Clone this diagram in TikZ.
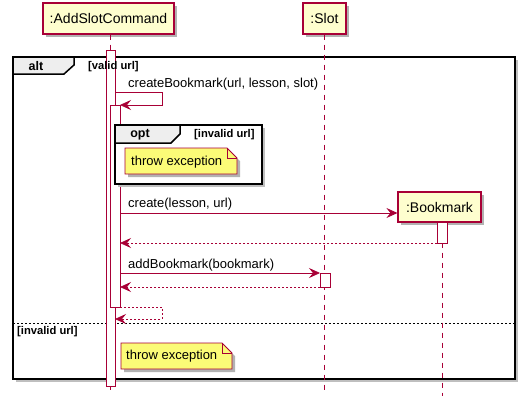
\documentclass[tikz,border=0pt]{standalone}
\usepackage{fontspec}
\setmainfont{Liberation Sans}
\usetikzlibrary{arrows.meta,shadows}
\definecolor{pred}{HTML}{A80036}
\definecolor{pyel}{HTML}{FEFECE}
\definecolor{pnote}{HTML}{FBFB77}
\definecolor{ptab}{HTML}{EEEEEE}
\begin{document}
\begin{tikzpicture}[x=1pt,y=-1pt,
  shad/.style={drop shadow={shadow xshift=3pt,shadow yshift=-3pt,opacity=.3,fill=black}},
  part/.style={draw=pred, fill=pyel, line width=1.1pt, minimum height=31pt, inner sep=0pt,
    font=\fontsize{14}{16}\selectfont, shad},
  life/.style={draw=pred, line width=0.8pt, dash pattern=on 5pt off 5pt},
  actbar/.style={draw=pred, fill=white, line width=1pt},
  msg/.style={draw=pred, line width=0.8pt, -{Stealth[length=11pt,width=10pt,inset=4pt]}},
  ret/.style={msg, dash pattern=on 2pt off 2pt},
  mlabel/.style={font=\fontsize{13}{15}\selectfont, anchor=base west, inner sep=0pt},
  frm/.style={draw=black, line width=1.5pt},
  ftitle/.style={font=\bfseries\fontsize{12.5}{14}\selectfont, inner sep=0pt},
  guard/.style={font=\bfseries\fontsize{11.2}{13}\selectfont, anchor=west, inner sep=0pt},
  notebox/.style={draw=pred, fill=pnote, line width=0.8pt, shad},
  ntext/.style={font=\fontsize{13}{15}\selectfont, anchor=west, inner sep=0pt}
]
\useasboundingbox (0,0) rectangle (525,407);

% alt frame
\fill[black!25] (16,60) rectangle (518,382);
\fill[white] (13,57) rectangle (515,379);
\draw[frm] (13,57) rectangle (515,379);
\draw[frm, fill=ptab] (13,57) -- (74,57) -- (74,65) -- (64,74) -- (13,74) -- cycle;
\node[ftitle] (alt) at (36,66) {alt};
\draw[black, line width=0.8pt, dash pattern=on 2pt off 2pt] (13,323) -- (515,323);
\node[guard] (g2) at (17,332) {[invalid url]};

% participants
\node[part, minimum width=131pt] (asc) at (108.5,18.5) {:AddSlotCommand};
\node[part, minimum width=43pt] (slot) at (324.5,18.5) {:Slot};
\node[part, minimum width=83pt, minimum height=30pt] (bm) at (439.5,207) {:Bookmark};

% lifelines
\coordinate (ascEnd) at (110.5,393);
\coordinate (slotEnd) at (324.5,393);
\coordinate (bmEnd) at (442,396);
\draw[life] (asc.south -| ascEnd) -- (ascEnd);
\draw[life] (slot.south) -- (slotEnd);
\draw[life] (bm.south -| bmEnd) -- (bmEnd);

% activation bars
\draw[actbar] (106,50) rectangle (115,386);
\draw[actbar] (110,105) rectangle (120,307);
\draw[actbar] (437,222) rectangle (447,243);
\draw[actbar] (320,273) rectangle (330,287);

\node[guard] (g1) at (88,66.5) {[valid url]};

% self message createBookmark
\coordinate (s1a) at (115,92);
\coordinate (s1b) at (162,92);
\coordinate (s1c) at (162,105);
\coordinate (s1d) at (120,105);
\draw[msg] (s1a) -- (s1b) -- (s1c) -- (s1d);
\node[mlabel] (l1) at (128,87) {createBookmark(url, lesson, slot)};

% opt frame
\fill[black!25] (118,128) rectangle (265,187);
\fill[white] (115,125) rectangle (262,184);
\draw[frm] (115,125) rectangle (262,184);
\draw[frm, fill=ptab] (115,125) -- (180,125) -- (180,134) -- (171,143) -- (115,143) -- cycle;
\node[ftitle] (opt) at (140,135) {opt};
\node[guard] (g3) at (194,135) {[invalid url]};
\draw[notebox] (125,148) -- (227,148) -- (237,158) -- (237,174) -- (125,174) -- cycle;
\draw[pred, line width=0.8pt] (227,148) -- (227,158) -- (237,158);
\node[ntext] (n1) at (131,162) {throw exception};

% create
\coordinate (c1) at (120,213);
\draw[msg] (c1) -- (bm.west |- c1);
\node[mlabel] (l2) at (128,207.5) {create(lesson, url)};
\coordinate (r1a) at (437,243);
\coordinate (r1b) at (120,243);
\draw[ret] (r1a) -- (r1b);

% addBookmark
\coordinate (a1) at (120,273);
\coordinate (a2) at (320,273);
\draw[msg] (a1) -- (a2);
\node[mlabel] (l3) at (128,268) {addBookmark(bookmark)};
\coordinate (r2a) at (320,287);
\coordinate (r2b) at (120,287);
\draw[ret] (r2a) -- (r2b);

% self return
\coordinate (s2a) at (120,307);
\coordinate (s2b) at (162,307);
\coordinate (s2c) at (162,319);
\coordinate (s2d) at (115,319);
\draw[ret] (s2a) -- (s2b) -- (s2c) -- (s2d);

% note 2
\draw[notebox] (121,343) -- (222,343) -- (232,353) -- (232,369) -- (121,369) -- cycle;
\draw[pred, line width=0.8pt] (222,343) -- (222,353) -- (232,353);
\node[ntext] (n2) at (126,356.5) {throw exception};
\end{tikzpicture}
\end{document}
